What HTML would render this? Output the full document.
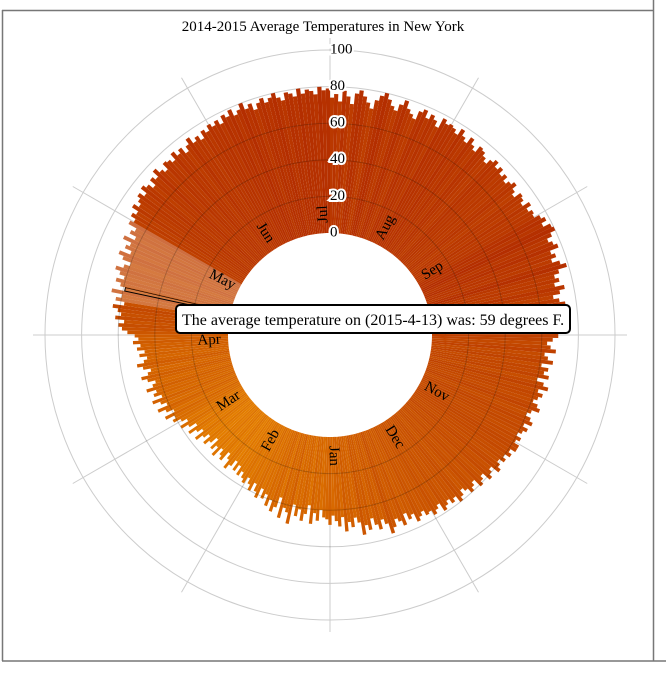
<!DOCTYPE html>
<html><head><meta charset="utf-8"><style>
html,body{margin:0;padding:0;background:#fff;}
svg{display:block;font-family:"Liberation Serif",serif;}
</style></head><body>
<svg id="chart" width="666" height="674" viewBox="0 0 666 674" xmlns="http://www.w3.org/2000/svg">
<line x1="2" y1="10.5" x2="654" y2="10.5" stroke="#777" stroke-width="1.5"/>
<line x1="2.5" y1="10" x2="2.5" y2="661" stroke="#777" stroke-width="1.5"/>
<line x1="653.5" y1="0" x2="653.5" y2="661" stroke="#777" stroke-width="1.5"/>
<line x1="2" y1="661" x2="666" y2="661" stroke="#777" stroke-width="1.5"/>
<text x="323" y="31" text-anchor="middle" font-size="15">2014-2015 Average Temperatures in New York</text>
<g id="grid"></g><g id="bars"></g><g id="overlay"></g><g id="labels"></g><g id="axis"></g>
<g>
<rect x="176" y="305" width="394" height="28" rx="4" fill="#fff" stroke="#000" stroke-width="2"/>
<text x="182" y="325" font-size="16">The average temperature on (2015-4-13) was: 59 degrees F.</text>
</g>
</svg>
<script>
const months = ["Jul","Aug","Sep","Oct","Nov","Dec","Jan","Feb","Mar","Apr","May","Jun"];
const monthDays = [31,31,30,31,30,31,31,28,31,30,31,30];
const tickValues = [0,20,40,60,80,100];
const tempsJul = [74,76,72,78,75,71,77,79,76,73,70,75,78,80,77,74,72,76,79,75,73,71,76,78,74,77,75,72,78,76,77];
const tempsAug = [76,74,78,75,73,77,74,72,76,75,73,71,74,76,73,75,72,74,71,73,75,72,70,74,73,71,75,72,74,73,76];
const tempsSep = [78,75,79,80,77,74,76,78,73,75,72,76,79,74,71,73,70,75,72,68,71,74,70,67,72,69,73,70,66,69];
const tempsOct = [66,63,65,68,62,64,67,61,65,63,66,60,64,67,62,65,63,61,64,66,62,60,63,65,61,64,62,60,63,61,64];
const tempsNov = [64,61,63,60,62,59,61,63,58,60,62,57,59,61,56,58,60,57,55,58,60,56,58,55,57,59,54,56,58,55];
const tempsDec = [56,53,55,57,52,54,50,56,53,51,55,58,52,49,54,51,47,53,50,55,48,45,50,47,52,44,49,46,43,48,45];
const tempsJan = [44,40,46,42,48,38,43,47,41,45,39,50,44,42,48,37,43,46,40,44,38,41,36,42,39,35,40,37,34,38,36];
const tempsFeb = [33,36,31,35,30,34,37,32,29,35,33,30,36,31,34,28,32,35,30,33,37,31,34,38,32,36,40,35];
const tempsMar = [38,42,40,45,39,43,47,41,44,48,42,46,44,49,45,43,47,50,46,44,48,51,47,45,49,46,50,48,52,49,51];
const tempsApr = [55,58,60,57,62,59,61,64,58,63,60,66,59,62,65,61,64,67,63,60,65,68,62,66,64,69,63,67,65,70];
const tempsMay = [68,71,69,73,70,72,74,71,75,73,70,74,72,76,73,71,75,74,72,76,73,75,71,74,77,73,75,72,76,74,77];
const tempsJun = [75,77,74,78,76,79,75,77,80,76,78,74,77,79,76,78,80,77,75,79,78,76,80,77,79,78,76,80,78,79];
const temps = [].concat(tempsJul,tempsAug,tempsSep,tempsOct,tempsNov,tempsDec,tempsJan,tempsFeb,tempsMar,tempsApr,tempsMay,tempsJun);

const NS="http://www.w3.org/2000/svg";
const cx=330, cy=335, r0=102, k=1.83;
const rScale=v=>r0+k*v;
const aScale=i=>i/365*2*Math.PI;
const pt=(a,r)=>[cx+r*Math.sin(a), cy-r*Math.cos(a)];
function mk(tag,attrs,parent){const e=document.createElementNS(NS,tag);for(const a in attrs)e.setAttribute(a,attrs[a]);parent.appendChild(e);return e;}
function lerp(a,b,t){return Math.round(a+(b-a)*t);}
function color(v){let t=Math.max(0,Math.min(1,(v-30)/50));return `rgb(${lerp(228,180,t)},${lerp(126,46,t)},${lerp(0,0,t)})`;}

const grid=document.getElementById('grid');
[80,100].forEach(v=>{
  const c=mk('circle',{cx:cx,cy:cy,r:rScale(v),fill:'none',stroke:'#ccc','stroke-width':1},grid);
  
  
});
for(let s=0;s<12;s++){
  const a=s*Math.PI/6;const p1=pt(a,r0),p2=pt(a,297);
  const l=mk('line',{x1:p1[0],y1:p1[1],x2:p2[0],y2:p2[1],stroke:'#ccc','stroke-width':1},grid);
  
  
}

const bars=document.getElementById('bars');
const hlIndex=31+31+30+31+30+31+31+28+31+12;
temps.forEach((v,i)=>{
  const a0=aScale(i),a1=aScale(i+1),r=rScale(v);
  const p1=pt(a0,r0),p2=pt(a0,r),p3=pt(a1,r),p4=pt(a1,r0);
  const d=`M${p1}L${p2}A${r},${r} 0 0 1 ${p3}L${p4}A${r0},${r0} 0 0 0 ${p1}Z`;
  const pale = i>=hlIndex-3 && i<hlIndex+18;
  const b=mk('path',{d:d,fill:color(v),'fill-opacity':pale?0.75:1,stroke:i===hlIndex?'#000':'none','stroke-width':1},bars);
  
  
});

const overlay=document.getElementById('overlay');
[20,40,60].forEach(v=>{
  const c=mk('circle',{cx:cx,cy:cy,r:rScale(v),fill:'none',stroke:'#ccc','stroke-width':1,style:'mix-blend-mode:multiply'},overlay);
  
  
});

const labels=document.getElementById('labels');
let start=0;
months.forEach((m,j)=>{
  const deg=start/365*360-3;const a=deg*Math.PI/180;const p=pt(a,121);
  let rot=deg-90; if(deg>200)rot+=180;
  const t=mk('text',{x:p[0],y:p[1],'text-anchor':'middle','dominant-baseline':'middle','font-size':15,fill:'#000',transform:`rotate(${rot} ${p[0]} ${p[1]})`},labels);
  t.textContent=m;
  
  
  start+=monthDays[j];
});

const axis=document.getElementById('axis');
tickValues.forEach(v=>{
  const y=cy-rScale(v);
  const t=mk('text',{x:330,y:y,'dominant-baseline':'middle','font-size':15,fill:'#000',stroke:'#fff','stroke-width':4,'paint-order':'stroke'},axis);
  t.textContent=v;
  
  
});
</script>
</body></html>
